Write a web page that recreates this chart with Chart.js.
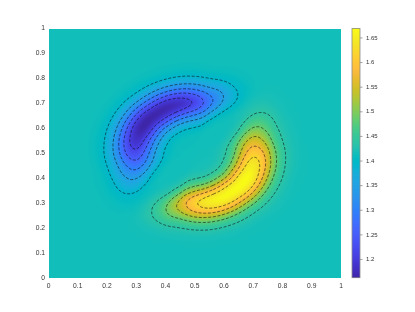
<!DOCTYPE html>
<html lang="en">
<head>
<meta charset="UTF-8">
<title>Field with contours</title>
<script src="https://cdn.jsdelivr.net/npm/chart.js"></script>
<style>
  html, body { margin: 0; padding: 0; background: #fff; }
</style>
</head>
<body>
<canvas id="chart" width="415" height="312"></canvas>
<script>
const centre = [0.5, 0.5];
const angles = [0, 10, 20, 30, 40, 50, 60, 70, 80, 90, 100, 110, 120, 130, 140, 150, 160, 170,
                180, 190, 200, 210, 220, 230, 240, 250, 260, 270, 280, 290, 300, 310, 320, 330, 340, 350];
const radii = [0.06, 0.08, 0.10, 0.12, 0.14, 0.16, 0.18, 0.20, 0.22, 0.24, 0.26, 0.28, 0.30, 0.32, 0.34, 0.36, 0.38, 0.40];
const background = 1.416;
// one row per angle, one value per radius
const values = [
  [1.418, 1.423, 1.434, 1.456, 1.493, 1.540, 1.584, 1.607, 1.600, 1.568, 1.523, 1.481, 1.450, 1.431, 1.422, 1.418, 1.417, 1.416],
  [1.418, 1.421, 1.430, 1.448, 1.477, 1.514, 1.549, 1.567, 1.561, 1.536, 1.501, 1.467, 1.443, 1.428, 1.421, 1.418, 1.416, 1.416],
  [1.417, 1.418, 1.423, 1.433, 1.451, 1.475, 1.501, 1.519, 1.521, 1.507, 1.484, 1.460, 1.440, 1.427, 1.421, 1.418, 1.417, 1.416],
  [1.416, 1.416, 1.417, 1.420, 1.426, 1.435, 1.448, 1.462, 1.471, 1.471, 1.463, 1.450, 1.438, 1.428, 1.421, 1.418, 1.417, 1.416],
  [1.416, 1.416, 1.416, 1.416, 1.417, 1.418, 1.421, 1.425, 1.429, 1.432, 1.432, 1.430, 1.427, 1.423, 1.420, 1.418, 1.417, 1.416],
  [1.416, 1.416, 1.416, 1.416, 1.416, 1.415, 1.415, 1.414, 1.413, 1.412, 1.412, 1.413, 1.414, 1.415, 1.416, 1.416, 1.416, 1.416],
  [1.416, 1.416, 1.416, 1.414, 1.412, 1.407, 1.399, 1.389, 1.381, 1.378, 1.381, 1.389, 1.398, 1.405, 1.411, 1.414, 1.415, 1.416],
  [1.416, 1.415, 1.412, 1.405, 1.392, 1.372, 1.348, 1.328, 1.320, 1.327, 1.345, 1.368, 1.388, 1.402, 1.410, 1.414, 1.415, 1.416],
  [1.414, 1.411, 1.402, 1.384, 1.355, 1.318, 1.283, 1.265, 1.271, 1.296, 1.331, 1.365, 1.389, 1.404, 1.412, 1.415, 1.416, 1.416],
  [1.414, 1.409, 1.396, 1.372, 1.332, 1.284, 1.240, 1.219, 1.229, 1.265, 1.311, 1.353, 1.384, 1.402, 1.411, 1.414, 1.416, 1.416],
  [1.413, 1.408, 1.393, 1.365, 1.321, 1.265, 1.215, 1.191, 1.203, 1.243, 1.296, 1.344, 1.379, 1.400, 1.410, 1.414, 1.416, 1.416],
  [1.413, 1.407, 1.392, 1.362, 1.314, 1.255, 1.202, 1.176, 1.189, 1.231, 1.288, 1.339, 1.377, 1.399, 1.410, 1.414, 1.415, 1.416],
  [1.413, 1.407, 1.391, 1.360, 1.311, 1.250, 1.195, 1.169, 1.182, 1.226, 1.284, 1.337, 1.376, 1.398, 1.409, 1.414, 1.415, 1.416],
  [1.413, 1.407, 1.391, 1.360, 1.310, 1.248, 1.193, 1.166, 1.179, 1.224, 1.282, 1.336, 1.375, 1.398, 1.409, 1.414, 1.415, 1.416],
  [1.413, 1.407, 1.393, 1.363, 1.315, 1.253, 1.195, 1.164, 1.174, 1.216, 1.275, 1.331, 1.372, 1.396, 1.409, 1.414, 1.415, 1.416],
  [1.413, 1.407, 1.393, 1.363, 1.315, 1.253, 1.195, 1.164, 1.174, 1.216, 1.275, 1.331, 1.372, 1.396, 1.409, 1.414, 1.415, 1.416],
  [1.414, 1.408, 1.394, 1.366, 1.320, 1.261, 1.206, 1.177, 1.186, 1.226, 1.282, 1.335, 1.374, 1.397, 1.409, 1.414, 1.415, 1.416],
  [1.414, 1.408, 1.396, 1.369, 1.327, 1.272, 1.222, 1.195, 1.203, 1.240, 1.292, 1.341, 1.377, 1.399, 1.409, 1.414, 1.415, 1.416],
  [1.414, 1.409, 1.398, 1.376, 1.339, 1.292, 1.248, 1.225, 1.232, 1.264, 1.309, 1.351, 1.382, 1.401, 1.410, 1.414, 1.416, 1.416],
  [1.414, 1.411, 1.402, 1.384, 1.355, 1.318, 1.283, 1.265, 1.271, 1.296, 1.331, 1.365, 1.389, 1.404, 1.412, 1.415, 1.416, 1.416],
  [1.415, 1.414, 1.409, 1.399, 1.381, 1.357, 1.331, 1.313, 1.311, 1.325, 1.348, 1.372, 1.392, 1.405, 1.412, 1.414, 1.416, 1.416],
  [1.416, 1.416, 1.415, 1.412, 1.406, 1.397, 1.384, 1.370, 1.362, 1.361, 1.369, 1.382, 1.394, 1.404, 1.411, 1.414, 1.415, 1.416],
  [1.416, 1.416, 1.416, 1.416, 1.415, 1.414, 1.411, 1.407, 1.403, 1.400, 1.400, 1.402, 1.405, 1.409, 1.412, 1.414, 1.415, 1.416],
  [1.416, 1.416, 1.416, 1.416, 1.416, 1.417, 1.417, 1.418, 1.419, 1.420, 1.420, 1.419, 1.418, 1.417, 1.417, 1.416, 1.416, 1.416],
  [1.416, 1.416, 1.417, 1.418, 1.420, 1.426, 1.433, 1.443, 1.451, 1.454, 1.451, 1.443, 1.435, 1.427, 1.421, 1.418, 1.417, 1.416],
  [1.416, 1.417, 1.420, 1.427, 1.440, 1.460, 1.484, 1.504, 1.512, 1.505, 1.487, 1.464, 1.444, 1.430, 1.422, 1.418, 1.417, 1.416],
  [1.418, 1.421, 1.430, 1.448, 1.477, 1.514, 1.549, 1.567, 1.561, 1.536, 1.501, 1.467, 1.443, 1.428, 1.421, 1.418, 1.416, 1.416],
  [1.418, 1.424, 1.436, 1.461, 1.500, 1.548, 1.592, 1.613, 1.603, 1.568, 1.522, 1.479, 1.448, 1.430, 1.421, 1.418, 1.417, 1.416],
  [1.419, 1.425, 1.439, 1.467, 1.511, 1.567, 1.617, 1.641, 1.629, 1.589, 1.536, 1.488, 1.453, 1.432, 1.422, 1.418, 1.417, 1.416],
  [1.419, 1.425, 1.440, 1.470, 1.518, 1.577, 1.630, 1.656, 1.643, 1.601, 1.544, 1.493, 1.455, 1.433, 1.422, 1.418, 1.417, 1.416],
  [1.419, 1.425, 1.441, 1.472, 1.521, 1.582, 1.637, 1.664, 1.651, 1.606, 1.549, 1.495, 1.456, 1.434, 1.423, 1.418, 1.417, 1.416],
  [1.419, 1.426, 1.441, 1.473, 1.522, 1.584, 1.639, 1.666, 1.653, 1.608, 1.550, 1.496, 1.457, 1.434, 1.423, 1.418, 1.417, 1.416],
  [1.419, 1.425, 1.439, 1.469, 1.518, 1.579, 1.637, 1.668, 1.658, 1.616, 1.557, 1.502, 1.460, 1.436, 1.424, 1.419, 1.417, 1.416],
  [1.419, 1.425, 1.439, 1.469, 1.518, 1.579, 1.637, 1.668, 1.658, 1.616, 1.557, 1.502, 1.460, 1.436, 1.424, 1.419, 1.417, 1.416],
  [1.419, 1.424, 1.438, 1.466, 1.512, 1.571, 1.626, 1.655, 1.646, 1.606, 1.550, 1.497, 1.458, 1.435, 1.423, 1.418, 1.417, 1.416],
  [1.418, 1.424, 1.437, 1.463, 1.505, 1.560, 1.611, 1.637, 1.629, 1.592, 1.540, 1.491, 1.455, 1.433, 1.423, 1.418, 1.417, 1.416]
];
// ten levels spread evenly between the field's extremes
const contourLevels = [1.209, 1.255, 1.301, 1.347, 1.393, 1.439, 1.485, 1.531, 1.577, 1.623];
const xTicks = [0, 0.1, 0.2, 0.3, 0.4, 0.5, 0.6, 0.7, 0.8, 0.9, 1];
const yTicks = [0, 0.1, 0.2, 0.3, 0.4, 0.5, 0.6, 0.7, 0.8, 0.9, 1];
const colourTicks = [1.2, 1.25, 1.3, 1.35, 1.4, 1.45, 1.5, 1.55, 1.6, 1.65];
const colourLimits = [1.163, 1.669];

// parula, 64 entries
const parula = ['#3e26a8','#402ab4','#422ec0','#4332cb','#4537d5','#463cde','#4741e5','#4747eb',
  '#484df0','#4852f4','#4758f8','#465efb','#4563fd','#4269fe','#3e6fff','#3875fe','#327cfc','#2f81fa',
  '#2e87f7','#2d8cf3','#2b91ef','#2797eb','#259be8','#23a0e5','#20a5e3','#1ca9df','#18addb','#12b1d6',
  '#08b5d0','#01b8ca','#02bac3','#0bbdbd','#19bfb6','#24c1ae','#2cc4a7','#31c69f','#37c897','#3fca8e',
  '#4acb84','#57cc7a','#64cd6f','#72cd64','#81cc59','#8fcb4e','#9dc943','#abc739','#b9c431','#c5c22a',
  '#d1bf27','#dcbd29','#e6bb2d','#f0ba36','#f8ba3d','#febe3c','#fec338','#fec934','#fccf30','#fad62d',
  '#f7dc2a','#f5e327','#f5e924','#f6ef20','#f7f51b','#f9fb15'];
const parulaRgb = parula.map(h => [1, 3, 5].map(k => parseInt(h.substr(k, 2), 16)));

function colourAt(v) {
  let t = (v - colourLimits[0]) / (colourLimits[1] - colourLimits[0]);
  t = Math.min(1, Math.max(0, t)) * (parulaRgb.length - 1);
  const k = Math.min(parulaRgb.length - 2, Math.floor(t)), f = t - k;
  const a = parulaRgb[k], b = parulaRgb[k + 1];
  return [a[0] + f * (b[0] - a[0]), a[1] + f * (b[1] - a[1]), a[2] + f * (b[2] - a[2])];
}

// smooth (catmull-rom) reading of the polar samples, like shading interp
const cr = (p0, p1, p2, p3, t) =>
  p1 + 0.5 * t * (p2 - p0 + t * (2 * p0 - 5 * p1 + 4 * p2 - p3 + t * (3 * (p1 - p2) + p3 - p0)));

function polarAt(a, r) {
  const nA = angles.length, nR = radii.length;
  if (r >= radii[nR - 1]) return background;
  const step = 360 / nA;
  const ja = a / step, j = Math.floor(ja), fa = ja - j;
  const col = jj => values[((jj % nA) + nA) % nA];
  const ring = i => {
    const ii = Math.min(nR - 1, Math.max(0, i));
    return cr(col(j - 1)[ii], col(j)[ii], col(j + 1)[ii], col(j + 2)[ii], fa);
  };
  if (r <= radii[0]) {
    const f = r / radii[0];
    return background * (1 - f) + ring(0) * f;
  }
  const ir = (r - radii[0]) / (radii[1] - radii[0]);
  const i = Math.min(nR - 2, Math.floor(ir)), fr = ir - i;
  return cr(ring(i - 1), ring(i), ring(i + 1), ring(i + 2), fr);
}

function fieldAt(x, y) {
  const dx = x - centre[0], dy = y - centre[1];
  let a = Math.atan2(dy, dx) * 180 / Math.PI;
  if (a < 0) a += 360;
  return polarAt(a, Math.hypot(dx, dy));
}

// marching squares on a fine polar resampling, joined into lines
function traceContours(level) {
  const nA = 180, nR = 86, dA = 360 / nA;
  const r0 = radii[0], dR = (radii[radii.length - 1] - r0) / (nR - 1);
  if (!traceContours.grid) {
    traceContours.grid = [];
    for (let j = 0; j < nA; j++) {
      const row = [];
      for (let i = 0; i < nR; i++) row.push(polarAt(j * dA, r0 + i * dR));
      traceContours.grid.push(row);
    }
  }
  const grid = traceContours.grid;
  const val = (j, i) => grid[j % nA][i];
  const pts = {};
  const segs = [];
  function edge(key, j1, i1, j2, i2) {
    if (!(key in pts)) {
      const v1 = val(j1, i1), v2 = val(j2, i2);
      const t = (level - v1) / (v2 - v1);
      const th = (j1 + t * (j2 - j1)) * dA * Math.PI / 180;
      const r = r0 + (i1 + t * (i2 - i1)) * dR;
      pts[key] = { x: centre[0] + r * Math.cos(th), y: centre[1] + r * Math.sin(th) };
    }
    return key;
  }
  const up = v => v >= level;
  for (let i = 0; i < nR - 1; i++) {
    for (let j = 0; j < nA; j++) {
      const va = val(j, i), vb = val(j + 1, i), vc = val(j + 1, i + 1), vd = val(j, i + 1);
      const e = [];
      if (up(va) !== up(vb)) e[0] = edge('a' + i + '_' + j, j, i, j + 1, i);
      if (up(vb) !== up(vc)) e[1] = edge('r' + i + '_' + ((j + 1) % nA), j + 1, i, j + 1, i + 1);
      if (up(vd) !== up(vc)) e[2] = edge('a' + (i + 1) + '_' + j, j, i + 1, j + 1, i + 1);
      if (up(va) !== up(vd)) e[3] = edge('r' + i + '_' + j, j, i, j, i + 1);
      const hit = e.filter(k => k !== undefined);
      if (hit.length === 2) segs.push(hit);
      else if (hit.length === 4) {
        const m = (va + vb + vc + vd) / 4;
        if (up(m) === up(va)) { segs.push([e[0], e[1]]); segs.push([e[2], e[3]]); }
        else { segs.push([e[0], e[3]]); segs.push([e[1], e[2]]); }
      }
    }
  }
  const byKey = {};
  segs.forEach((s, k) => s.forEach(key => (byKey[key] = byKey[key] || []).push(k)));
  const used = new Array(segs.length).fill(false);
  const lines = [];
  for (let k = 0; k < segs.length; k++) {
    if (used[k]) continue;
    used[k] = true;
    const chain = [segs[k][0], segs[k][1]];
    let grow = true;
    while (grow) {
      grow = false;
      const last = chain[chain.length - 1];
      for (const m of byKey[last]) {
        if (used[m]) continue;
        used[m] = true;
        chain.push(segs[m][0] === last ? segs[m][1] : segs[m][0]);
        grow = true;
        break;
      }
    }
    lines.push(chain.map(key => pts[key]));
  }
  return lines;
}

const contourSets = [];
contourLevels.forEach(level => {
  traceContours(level).forEach(line => contourSets.push({
    data: line,
    showLine: true,
    pointRadius: 0,
    pointHoverRadius: 0,
    borderColor: 'rgba(10,10,10,0.8)',
    borderWidth: 0.7,
    borderDash: [3, 1.7],
    tension: 0,
    fill: false
  }));
});

let fieldImage = null;
const fieldPlugin = {
  id: 'field',
  beforeDatasetsDraw(chart) {
    const { ctx, chartArea: a, scales: { x, y } } = chart;
    const w = Math.ceil(a.right - a.left), h = Math.ceil(a.bottom - a.top);
    if (!fieldImage) {
      fieldImage = document.createElement('canvas');
      fieldImage.width = w;
      fieldImage.height = h;
      const c = fieldImage.getContext('2d');
      const img = c.createImageData(w, h);
      for (let py = 0; py < h; py++) {
        const vy = y.getValueForPixel(a.top + py + 0.5);
        for (let px = 0; px < w; px++) {
          const vx = x.getValueForPixel(a.left + px + 0.5);
          const col = colourAt(fieldAt(vx, vy));
          const o = (py * w + px) * 4;
          img.data[o] = col[0]; img.data[o + 1] = col[1]; img.data[o + 2] = col[2]; img.data[o + 3] = 255;
        }
      }
      c.putImageData(img, 0, 0);
    }
    ctx.drawImage(fieldImage, a.left, a.top, a.right - a.left, a.bottom - a.top);
  }
};

const colourbarPlugin = {
  id: 'colourbar',
  afterDraw(chart) {
    const { ctx } = chart;
    const cb = chart.scales.cb;
    const x0 = cb.left + 11, x1 = cb.left + 19;
    ctx.save();
    for (let py = Math.floor(cb.top); py < cb.bottom; py++) {
      const col = colourAt(cb.getValueForPixel(py + 0.5));
      ctx.fillStyle = 'rgb(' + col.map(Math.round).join(',') + ')';
      ctx.fillRect(x0, py, x1 - x0, 1);
    }
    ctx.strokeStyle = '#8a8a8a';
    ctx.lineWidth = 0.8;
    ctx.strokeRect(x0, cb.top, x1 - x0, cb.bottom - cb.top);
    ctx.beginPath();
    colourTicks.forEach(v => {
      const py = cb.getPixelForValue(v);
      ctx.moveTo(x1, py);
      ctx.lineTo(x1 + 2.5, py);
    });
    ctx.stroke();
    ctx.restore();
  }
};

const fmt = v => String(Number(v.toFixed(3)));
const tickFont = { family: '"Liberation Sans", Helvetica, Arial, sans-serif', size: 6.7 };

new Chart(document.getElementById('chart'), {
  type: 'scatter',
  data: { datasets: contourSets },
  options: {
    responsive: false,
    animation: false,
    devicePixelRatio: 1,
    events: [],
    layout: { padding: { top: 23, right: 0, bottom: 0, left: 0 } },
    plugins: { legend: { display: false }, tooltip: { enabled: false } },
    scales: {
      x: {
        type: 'linear', min: 0, max: 1,
        grid: { display: false, drawTicks: false }, border: { display: false },
        afterBuildTicks: s => { s.ticks = xTicks.map(v => ({ value: v })); },
        afterFit: s => { s.height = 34.3; },
        ticks: { padding: 4, maxRotation: 0, autoSkip: false, color: '#333', font: tickFont, callback: fmt }
      },
      y: {
        type: 'linear', min: 0, max: 1,
        grid: { display: false, drawTicks: false }, border: { display: false },
        afterBuildTicks: s => { s.ticks = yTicks.map(v => ({ value: v })); },
        afterFit: s => { s.width = 48.5; },
        ticks: { padding: 3.5, autoSkip: false, color: '#333', font: tickFont, callback: fmt }
      },
      cb: {
        type: 'linear', position: 'right', min: colourLimits[0], max: colourLimits[1],
        grid: { display: false, drawTicks: false }, border: { display: false },
        afterBuildTicks: s => { s.ticks = colourTicks.map(v => ({ value: v })); },
        afterFit: s => { s.width = 74; },
        ticks: { padding: 25, autoSkip: false, color: '#333', font: { family: tickFont.family, size: 6 }, callback: fmt }
      }
    }
  },
  plugins: [fieldPlugin, colourbarPlugin]
});
</script>
</body>
</html>
